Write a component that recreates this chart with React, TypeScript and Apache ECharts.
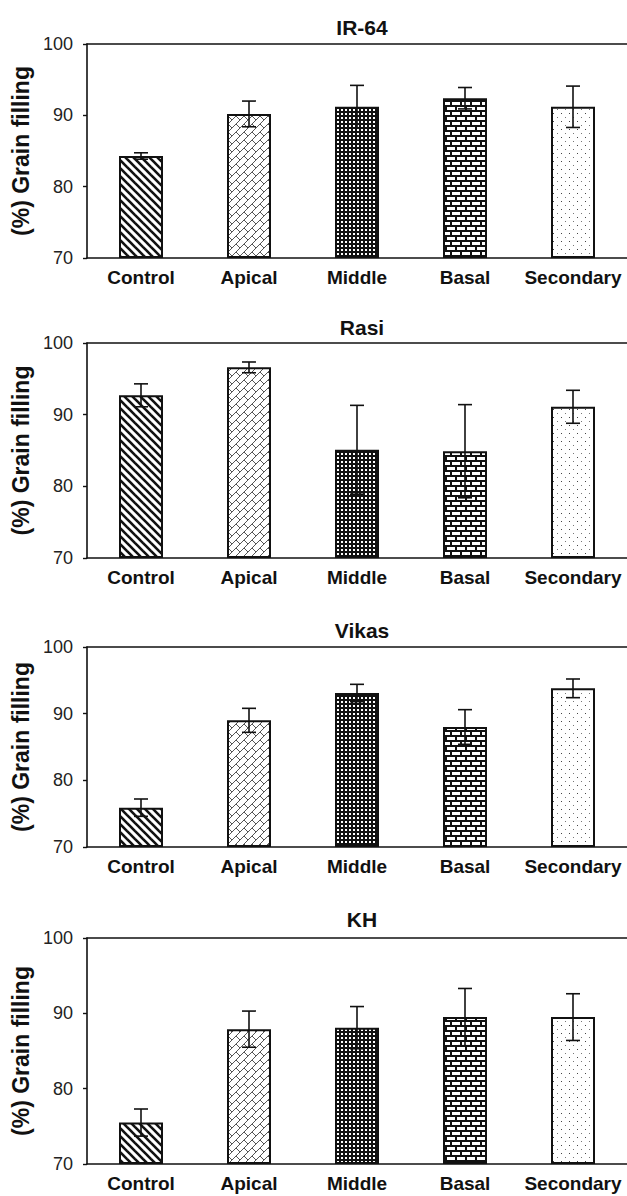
import React, { useEffect, useRef } from "react";
import * as echarts from "echarts";

const categories = ["Control", "Apical", "Middle", "Basal", "Secondary"];
const panelTitles = ["IR-64", "Rasi", "Vikas", "KH"];
const yAxisName = "(%) Grain filling";
const yMin = 70;
const yMax = 100;
const yInterval = 10;

const ir64Means = [84.3, 90.2, 91.2, 92.4, 91.2];
const ir64Errors = [0.45, 1.8, 3.0, 1.5, 2.9];
const rasiMeans = [92.7, 96.6, 85.1, 84.9, 91.1];
const rasiErrors = [1.6, 0.75, 6.2, 6.5, 2.3];
const vikasMeans = [75.9, 89.0, 93.1, 88.0, 93.8];
const vikasErrors = [1.3, 1.8, 1.3, 2.6, 1.4];
const khMeans = [75.5, 87.9, 88.1, 89.5, 89.5];
const khErrors = [1.8, 2.4, 2.8, 3.8, 3.1];

const panelMeans = [ir64Means, rasiMeans, vikasMeans, khMeans];
const panelErrors = [ir64Errors, rasiErrors, vikasErrors, khErrors];

// layout (px)
const gridLeft = 87;
const gridTops = [44, 343, 647, 938];
const gridHeights = [214, 215, 200, 226];
const titleTops = [12, 312, 615, 904];

const FONT = '"Liberation Sans", Arial, Helvetica, sans-serif';

function makeTile(w: number, h: number, draw: (c: CanvasRenderingContext2D) => void) {
  const cv = document.createElement("canvas");
  cv.width = w;
  cv.height = h;
  const c = cv.getContext("2d")!;
  c.fillStyle = "#fff";
  c.fillRect(0, 0, w, h);
  draw(c);
  return { image: cv.toDataURL(), repeat: "repeat", imageWidth: w, imageHeight: h };
}

function buildPatterns() {
  // Control: thick "\" stripes
  const stripes = makeTile(8, 8, (c) => {
    c.strokeStyle = "#111";
    c.lineWidth = 2.6;
    for (const k of [-8, 0, 8]) {
      c.beginPath();
      c.moveTo(k - 1, -1);
      c.lineTo(k + 9, 9);
      c.stroke();
    }
  });
  // Apical: grey diagonal brick
  const diagBrick = makeTile(8, 8, (c) => {
    c.strokeStyle = "#555";
    c.lineWidth = 1;
    for (const k of [0, 8, 16]) {
      c.beginPath();
      c.moveTo(k - 9, 9);
      c.lineTo(k + 1, -1);
      c.stroke();
    }
    c.beginPath();
    c.moveTo(4, 4);
    c.lineTo(8, 8);
    c.stroke();
    c.beginPath();
    c.moveTo(-4, 4);
    c.lineTo(0, 8);
    c.stroke();
    c.beginPath();
    c.moveTo(4, -4);
    c.lineTo(8, 0);
    c.stroke();
  });
  // Middle: dense dark grid
  const darkGrid = makeTile(4, 4, (c) => {
    c.fillStyle = "#111";
    c.fillRect(0, 0, 4, 4);
    c.fillStyle = "#fff";
    c.fillRect(1, 1, 2, 2);
  });
  // Basal: horizontal bricks
  const bricks = makeTile(10, 10, (c) => {
    c.fillStyle = "#111";
    c.fillRect(0, 0, 10, 10);
    c.fillStyle = "#fff";
    c.fillRect(2, 2, 8, 3);
    c.fillRect(0, 7, 5, 3);
    c.fillRect(7, 7, 3, 3);
  });
  // Secondary: sparse dots
  const dots = makeTile(8, 8, (c) => {
    c.fillStyle = "#444";
    c.fillRect(1, 1, 1, 1);
    c.fillStyle = "#777";
    c.fillRect(5, 5, 1, 1);
  });
  return [stripes, diagBrick, darkGrid, bricks, dots];
}

export default function App() {
  const ref = useRef<HTMLDivElement>(null);

  useEffect(() => {
    if (!ref.current) return;
    const chart = echarts.init(ref.current, null, { renderer: "svg" });
    const patterns = buildPatterns();

    const grids: any[] = [];
    const xAxes: any[] = [];
    const yAxes: any[] = [];
    const titles: any[] = [];
    const series: any[] = [];

    panelTitles.forEach((t, i) => {
      grids.push({ left: gridLeft, right: 0, top: gridTops[i], height: gridHeights[i] });
      titles.push({
        text: t,
        left: (gridLeft + 627) / 2,
        top: titleTops[i],
        textAlign: "center",
        textStyle: { fontFamily: FONT, fontSize: 21, fontWeight: "bold", color: "#111" },
      });
      xAxes.push({
        type: "category",
        gridIndex: i,
        data: categories,
        position: "bottom",
        axisLine: { show: true, onZero: false, lineStyle: { color: "#111", width: 1.6 } },
        axisTick: { show: false },
        axisLabel: {
          interval: 0,
          hideOverlap: false,
          margin: 10,
          fontFamily: FONT,
          fontSize: 19,
          fontWeight: "bold",
          color: "#111",
        },
        splitLine: { show: false },
      });
      xAxes.push({
        type: "category",
        gridIndex: i,
        data: categories,
        position: "top",
        axisLine: { show: true, onZero: false, lineStyle: { color: "#111", width: 1.6 } },
        axisTick: { show: false },
        axisLabel: { show: false },
        splitLine: { show: false },
      });
      yAxes.push({
        type: "value",
        gridIndex: i,
        min: yMin,
        max: yMax,
        interval: yInterval,
        startValue: yMin,
        name: yAxisName,
        nameLocation: "middle",
        nameRotate: 90,
        nameGap: 52,
        nameTextStyle: { fontFamily: FONT, fontSize: 23, fontWeight: "bold", color: "#111" },
        axisLine: { show: true, lineStyle: { color: "#111", width: 1.6 } },
        axisTick: { show: true, inside: false, length: 4, lineStyle: { color: "#111", width: 1.4 } },
        axisLabel: { margin: 14, fontFamily: FONT, fontSize: 18, color: "#222" },
        splitLine: { show: false },
      });
      const means = panelMeans[i];
      const errs = panelErrors[i];
      series.push({
        type: "bar",
        xAxisIndex: i * 2,
        yAxisIndex: i,
        barWidth: 44,
        data: means.map((v, j) => ({
          value: v,
          itemStyle: { color: patterns[j], borderColor: "#111", borderWidth: 2 },
        })),
        z: 2,
      });
      series.push({
        type: "custom",
        xAxisIndex: i * 2,
        yAxisIndex: i,
        z: 5,
        data: means.map((v, j) => [j, v, errs[j]]),
        encode: { x: 0, y: 1 },
        renderItem: (params: any, api: any) => {
          const x = api.value(0);
          const m = api.value(1);
          const e = api.value(2);
          const top = api.coord([x, m + e]);
          const bot = api.coord([x, m - e]);
          const hw = 7;
          const st = { stroke: "#111", lineWidth: 1.6 };
          return {
            type: "group",
            children: [
              { type: "line", shape: { x1: top[0], y1: top[1], x2: bot[0], y2: bot[1] }, style: st },
              { type: "line", shape: { x1: top[0] - hw, y1: top[1], x2: top[0] + hw, y2: top[1] }, style: st },
              { type: "line", shape: { x1: bot[0] - hw, y1: bot[1], x2: bot[0] + hw, y2: bot[1] }, style: st },
            ],
          };
        },
      });
    });

    chart.setOption({
      animation: false,
      backgroundColor: "#fff",
      title: titles,
      grid: grids,
      xAxis: xAxes,
      yAxis: yAxes,
      series,
    });
    return () => chart.dispose();
  }, []);

  return (
    <div
      ref={ref}
      style={{ position: "absolute", left: 0, top: 0, width: 627, height: 1196, background: "#fff" }}
    />
  );
}
